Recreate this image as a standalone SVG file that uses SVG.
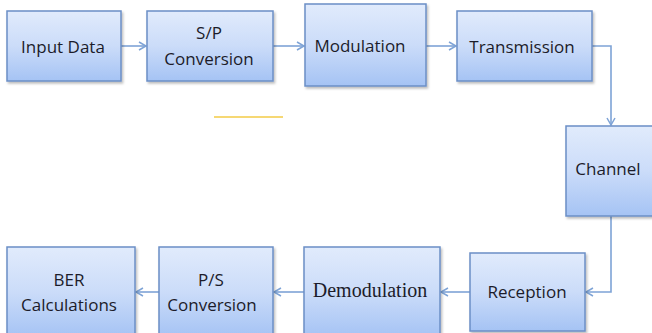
<svg xmlns="http://www.w3.org/2000/svg" width="652" height="333" viewBox="0 0 652 333">
<defs>
<linearGradient id="g" x1="0" y1="0" x2="0" y2="1">
<stop offset="0" stop-color="#e1ebfc"/>
<stop offset="0.5" stop-color="#cbdcf9"/>
<stop offset="1" stop-color="#a5c3f4"/>
</linearGradient>
<filter id="sh" x="-10%" y="-10%" width="130%" height="130%">
<feDropShadow dx="1.5" dy="2" stdDeviation="1.2" flood-color="#000" flood-opacity="0.25"/>
</filter>
<marker id="a" markerWidth="10" markerHeight="10" refX="8" refY="5" orient="auto" markerUnits="userSpaceOnUse">
<path d="M1,1 L8,5 L1,9" fill="none" stroke="#7ea3d6" stroke-width="1.5"/>
</marker>
</defs>
<style>
.box{fill:url(#g);stroke:#6b8fc6;stroke-width:1.5;filter:url(#sh)}
.t{font-family:"Open Sans","Noto Sans",sans-serif;font-size:17px;fill:#1c1c2a;text-anchor:middle}
.s{font-family:"Liberation Serif",serif;font-size:20px;fill:#1c1c2a;text-anchor:middle}
.c{fill:none;stroke:#7ea3d6;stroke-width:1.6;marker-end:url(#a)}
</style>
<line x1="214" y1="117" x2="283" y2="117" stroke="#f6d874" stroke-width="2"/>
<g id="connectors">
<path class="c" d="M121,46 L146,46"/>
<path class="c" d="M273,46 L304,46"/>
<path class="c" d="M426,46 L456,46"/>
<path class="c" d="M592,46 L611,46 L611,125"/>
<path class="c" d="M611,216 L611,292 L586,292"/>
<path class="c" d="M470,292 L441,292"/>
<path class="c" d="M304,292 L274,292"/>
<path class="c" d="M159,292 L136,292"/>
</g>
<g id="input-data"><rect class="box" x="7" y="11" width="114" height="70"/><text class="t" x="63" y="52.5">Input Data</text></g>
<g id="sp-conversion"><rect class="box" x="147" y="11" width="126" height="70"/><text class="t" x="209" y="39">S/P</text><text class="t" x="209" y="65">Conversion</text></g>
<g id="modulation"><rect class="box" x="305" y="4" width="121" height="82"/><text class="t" x="360" y="52">Modulation</text></g>
<g id="transmission"><rect class="box" x="457" y="11" width="135" height="70"/><text class="t" x="522" y="53">Transmission</text></g>
<g id="channel"><rect class="box" x="566" y="126" width="90" height="90"/><text class="t" x="608" y="175">Channel</text></g>
<g id="reception"><rect class="box" x="470" y="253" width="115" height="78"/><text class="t" x="527" y="298">Reception</text></g>
<g id="demodulation"><rect class="box" x="304" y="247" width="136" height="90"/><text class="s" x="370" y="297">Demodulation</text></g>
<g id="ps-conversion"><rect class="box" x="159" y="247" width="114" height="90"/><text class="t" x="211" y="286">P/S</text><text class="t" x="212" y="311">Conversion</text></g>
<g id="ber-calculations"><rect class="box" x="7" y="247" width="128" height="90"/><text class="t" x="69" y="286">BER</text><text class="t" x="69" y="311">Calculations</text></g>
</svg>
